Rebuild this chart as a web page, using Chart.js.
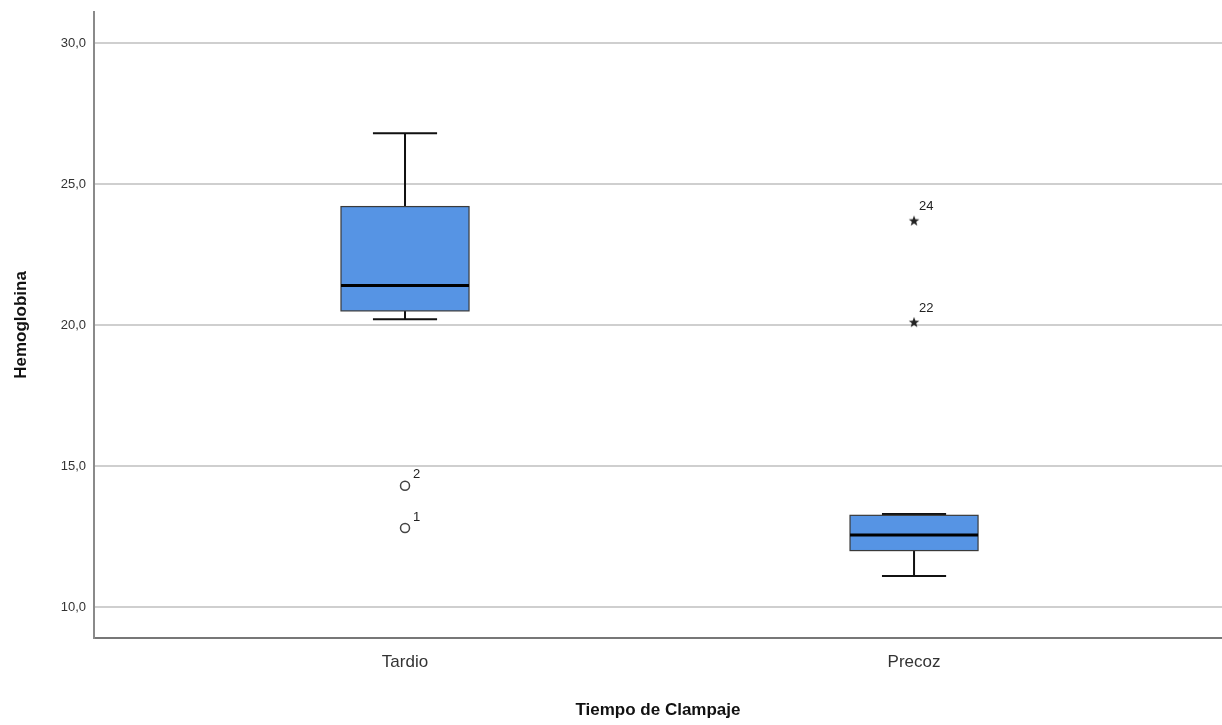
<!DOCTYPE html>
<html lang="es">
<head>
  <meta charset="UTF-8">
  <title>Hemoglobina por Tiempo de Clampaje</title>
  <script src="https://cdn.jsdelivr.net/npm/chart.js"></script>
  <style>
    html, body { margin: 0; padding: 0; background: #fff; overflow: hidden; }
    #chart { display: block; }
  </style>
</head>
<body>
  <canvas id="chart" width="1222" height="725"></canvas>

<script>
  // categorias y resumen de cada caja
  const categorias = ['Tardio', 'Precoz'];
  const bigoteInf = [20.2, 11.1];
  const q1 = [20.5, 12.0];
  const mediana = [21.4, 12.55];
  const q3 = [24.2, 13.25];
  const bigoteSup = [26.8, 13.3];

  // atipicos (circulo) y extremos (estrella)
  const atipicosCat = [0, 0];
  const atipicosVal = [14.3, 12.8];
  const atipicosId = ['2', '1'];
  const extremosCat = [1, 1];
  const extremosVal = [23.7, 20.1];
  const extremosId = ['24', '22'];

  const ticksY = [10, 15, 20, 25, 30];

  const azul = '#5694e4';

  // estrella rellena para los extremos
  function crearEstrella() {
    const c = document.createElement('canvas');
    c.width = 12; c.height = 12;
    const g = c.getContext('2d');
    g.fillStyle = '#222';
    g.beginPath();
    for (let i = 0; i < 10; i++) {
      const r = i % 2 === 0 ? 5.6 : 2.3;
      const a = -Math.PI / 2 + i * Math.PI / 5;
      const x = 6 + r * Math.cos(a);
      const y = 6.4 + r * Math.sin(a);
      if (i === 0) g.moveTo(x, y); else g.lineTo(x, y);
    }
    g.closePath();
    g.fill();
    return c;
  }

  // sin relleno automatico de las escalas
  function sinPadding(scale) {
    scale.paddingTop = 0;
    scale.paddingBottom = 0;
    scale.paddingLeft = 0;
    scale.paddingRight = 0;
  }

  // dibuja las cajas usando las escalas del grafico
  const cajas = {
    id: 'cajas',
    beforeDatasetsDraw(chart) {
      const ctx = chart.ctx;
      const x = chart.scales.x;
      const y = chart.scales.y;
      const anchoCaja = 0.2515;
      const anchoTope = 0.126;
      ctx.save();
      for (let i = 0; i < categorias.length; i++) {
        const c = i + 1;
        const xc = x.getPixelForValue(c);
        const xl = x.getPixelForValue(c - anchoCaja / 2);
        const xr = x.getPixelForValue(c + anchoCaja / 2);
        const tl = x.getPixelForValue(c - anchoTope / 2);
        const tr = x.getPixelForValue(c + anchoTope / 2);
        const yLo = y.getPixelForValue(bigoteInf[i]);
        const yQ1 = y.getPixelForValue(q1[i]);
        const yMe = y.getPixelForValue(mediana[i]);
        const yQ3 = y.getPixelForValue(q3[i]);
        const yHi = y.getPixelForValue(bigoteSup[i]);

        // bigotes
        ctx.strokeStyle = '#111';
        ctx.lineWidth = 2;
        ctx.beginPath();
        ctx.moveTo(xc, yQ3); ctx.lineTo(xc, yHi);
        ctx.moveTo(tl, yHi); ctx.lineTo(tr, yHi);
        ctx.moveTo(xc, yQ1); ctx.lineTo(xc, yLo);
        ctx.moveTo(tl, yLo); ctx.lineTo(tr, yLo);
        ctx.stroke();

        // caja
        ctx.fillStyle = azul;
        ctx.fillRect(xl, yQ3, xr - xl, yQ1 - yQ3);
        ctx.strokeStyle = '#3a3a3a';
        ctx.lineWidth = 1.2;
        ctx.strokeRect(xl, yQ3, xr - xl, yQ1 - yQ3);

        // mediana
        ctx.strokeStyle = '#000';
        ctx.lineWidth = 3;
        ctx.beginPath();
        ctx.moveTo(xl, yMe); ctx.lineTo(xr, yMe);
        ctx.stroke();
      }
      ctx.restore();
    },
    afterDatasetsDraw(chart) {
      const ctx = chart.ctx;
      const x = chart.scales.x;
      const y = chart.scales.y;
      ctx.save();
      ctx.font = '13px "Liberation Sans", Arial, sans-serif';
      ctx.fillStyle = '#222';
      ctx.textAlign = 'left';
      ctx.textBaseline = 'middle';
      for (let i = 0; i < atipicosVal.length; i++) {
        const px = x.getPixelForValue(atipicosCat[i] + 1);
        const py = y.getPixelForValue(atipicosVal[i]);
        ctx.fillText(atipicosId[i], px + 8, py - 11);
      }
      for (let i = 0; i < extremosVal.length; i++) {
        const px = x.getPixelForValue(extremosCat[i] + 1);
        const py = y.getPixelForValue(extremosVal[i]);
        ctx.fillText(extremosId[i], px + 5, py - 14);
      }
      ctx.restore();
    }
  };

  const ctx1 = document.getElementById('chart');

  const config = {
    type: 'scatter',
    data: {
      datasets: [
        {
          label: 'Atípicos',
          data: atipicosVal.map((v, i) => ({ x: atipicosCat[i] + 1, y: v })),
          pointStyle: 'circle',
          radius: 4.5,
          backgroundColor: '#fff',
          borderColor: '#444',
          borderWidth: 1.5
        },
        {
          label: 'Extremos',
          data: extremosVal.map((v, i) => ({ x: extremosCat[i] + 1, y: v })),
          pointStyle: crearEstrella(),
          radius: 5
        }
      ]
    },
    options: {
      responsive: false,
      animation: false,
      layout: { autoPadding: false, padding: { top: 12, right: 0, left: 0, bottom: 0 } },
      plugins: {
        legend: { display: false },
        tooltip: { enabled: false }
      },
      scales: {
        x: {
          type: 'linear',
          min: 0.389,
          max: 2.605,
          afterBuildTicks(scale) {
            scale.ticks = categorias.map((c, i) => ({ value: i + 1 }));
          },
          afterFit(scale) {
            scale.height = 87;
            sinPadding(scale);
          },
          ticks: {
            callback: (v) => categorias[v - 1],
            color: '#333',
            font: { family: '"Liberation Sans", Arial, sans-serif', size: 17 },
            padding: 14,
            maxRotation: 0
          },
          grid: { display: false, drawTicks: false },
          border: { color: '#777', width: 2 },
          title: {
            display: true,
            text: 'Tiempo de Clampaje',
            color: '#111',
            font: { family: '"Liberation Sans", Arial, sans-serif', size: 17, weight: 'bold' },
            padding: { bottom: 4, top: 0 }
          }
        },
        y: {
          min: 8.9,
          max: 31.1,
          afterBuildTicks(scale) {
            scale.ticks = ticksY.map(v => ({ value: v }));
          },
          afterFit(scale) {
            scale.width = 94;
            sinPadding(scale);
          },
          ticks: {
            callback: (v) => v.toFixed(1).replace('.', ','),
            color: '#333',
            font: { family: '"Liberation Sans", Arial, sans-serif', size: 13 },
            padding: 8
          },
          grid: { color: '#cfcfcf', lineWidth: 2, drawTicks: false, tickLength: 0 },
          border: { color: '#8a8a8a', width: 2 },
          title: {
            display: true,
            text: 'Hemoglobina',
            color: '#111',
            font: { family: '"Liberation Sans", Arial, sans-serif', size: 17, weight: 'bold' },
            padding: { top: 11, bottom: 0 }
          }
        }
      }
    },
    plugins: [cajas]
  };

  let myChart = new Chart(ctx1, config);
</script>
</body>
</html>
